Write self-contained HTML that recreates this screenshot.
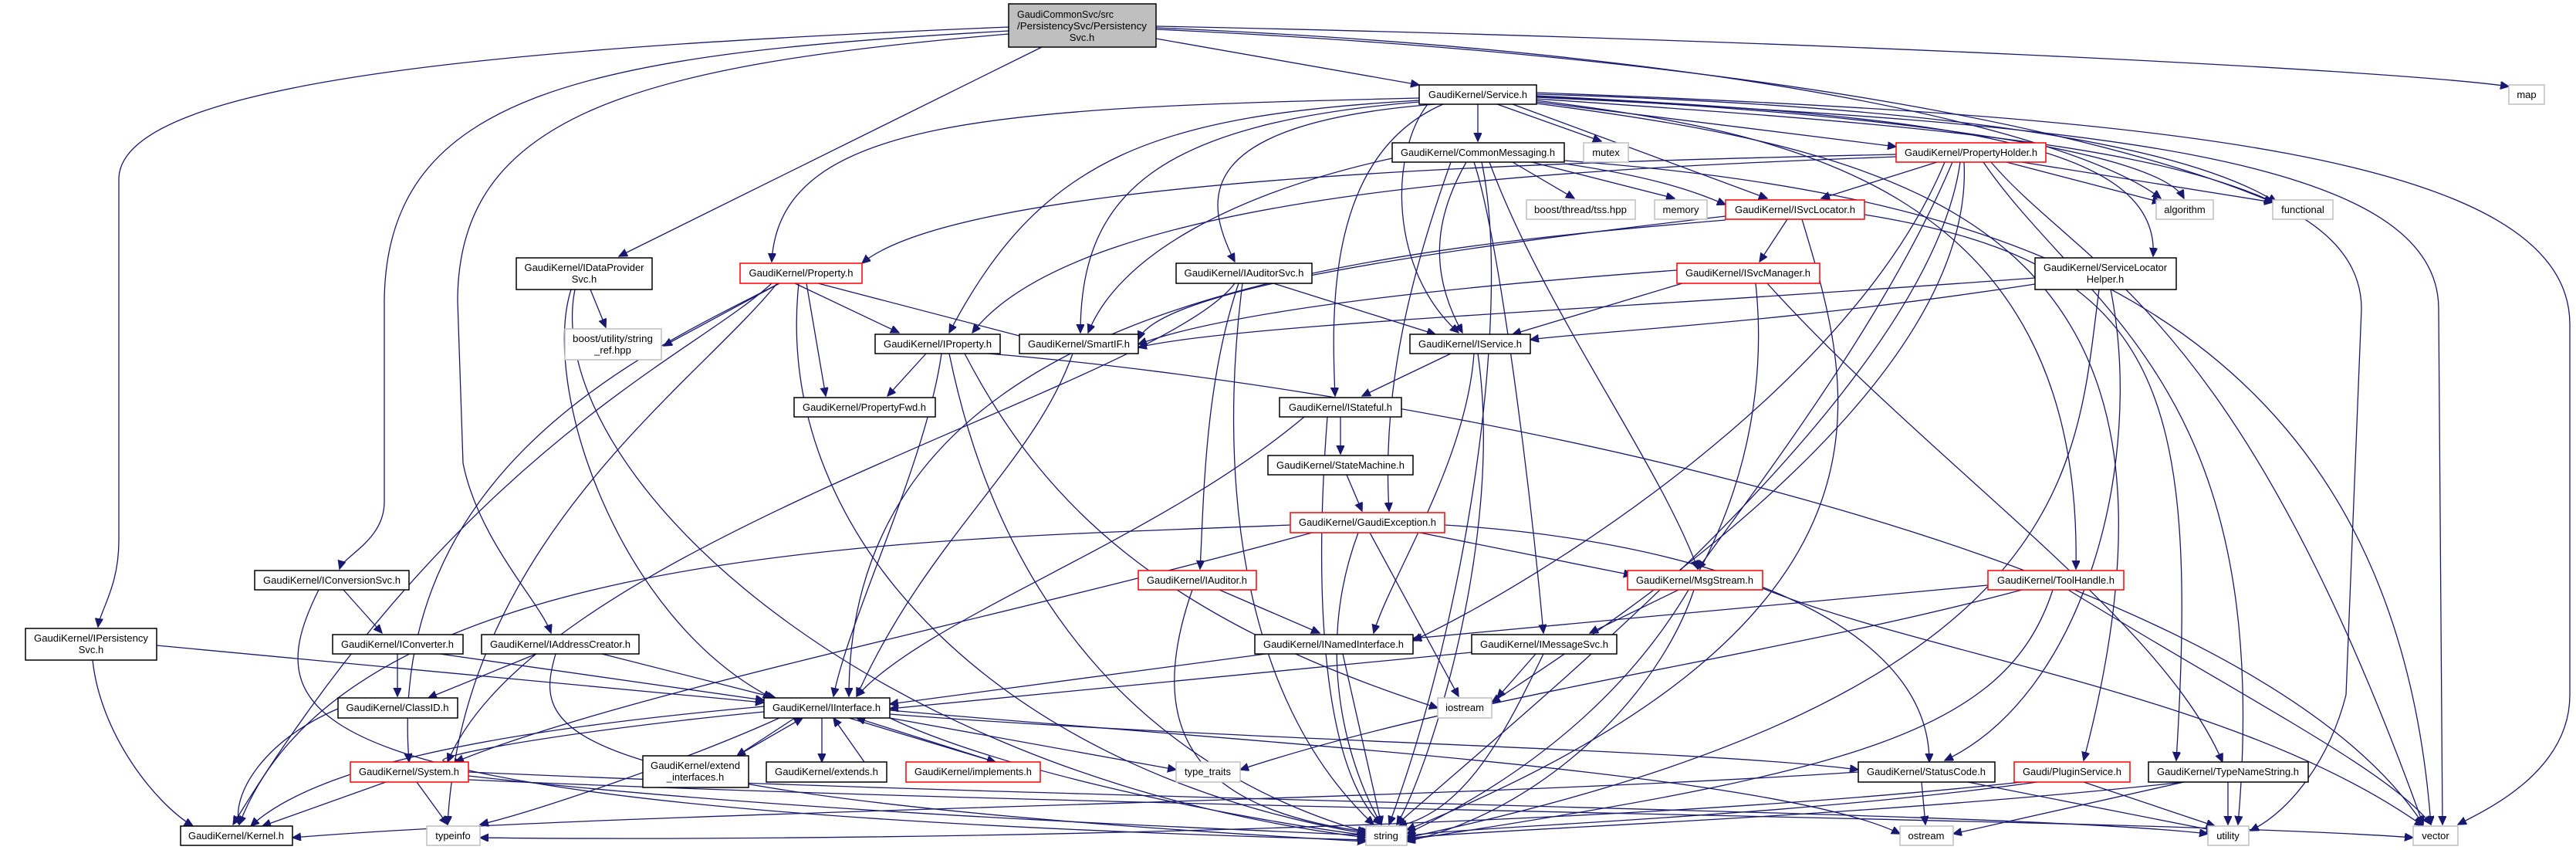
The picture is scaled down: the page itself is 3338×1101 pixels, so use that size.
<!DOCTYPE html>
<html><head><meta charset="utf-8"><style>
html,body{margin:0;padding:0;background:#fff;}
svg{display:block}
.n rect{fill:#fff;stroke:#000;stroke-width:1.5}
.r rect{stroke:#ff0000}
.g rect{stroke:#bfbfbf}
text{font-family:"Liberation Sans",sans-serif;font-size:13px;fill:#000}
path{fill:none;stroke:#191970;stroke-width:1.3}
</style></head><body>
<svg width="3338" height="1101" viewBox="0 0 3338 1101" xmlns="http://www.w3.org/2000/svg">
<defs><marker id="a" markerWidth="12" markerHeight="12" refX="11" refY="5" orient="auto" markerUnits="userSpaceOnUse"><path d="M0,0 L11,5 L0,10 Z" style="fill:#191970;stroke:#191970"/></marker></defs>
<g marker-end="url(#a)">
<path d="M1307,35 C700,60 160,100 154,230 L154,700 C154,760 130,790 127,812"/>
<path d="M1307,40 C760,70 500,120 498,390 L498,650 C498,700 445,720 440,737"/>
<path d="M1307,44 C820,85 593,150 593,390 L600,600 C620,700 700,780 714,820"/>
<path d="M1350,61 L802,332"/>
<path d="M1498,50 L1839,110"/>
<path d="M1498,34 C2300,50 3100,90 3251,112"/>
<path d="M1498,36 C2300,70 2700,180 2800,257"/>
<path d="M1498,38 C2400,80 2800,200 2945,262"/>
<path d="M1915,135 L1915,183"/>
<path d="M1940,135 L2075,183"/>
<path d="M1991,132 L2457,190"/>
<path d="M1960,135 L2290,257"/>
<path d="M1839,127 C1300,140 1010,150 1000,339"/>
<path d="M1839,130 C1500,150 1350,200 1230,431"/>
<path d="M1839,132 C1500,160 1400,250 1400,431"/>
<path d="M1860,135 C1540,160 1560,260 1600,339"/>
<path d="M1850,135 C1800,200 1800,350 1890,431"/>
<path d="M1870,135 C1720,200 1725,400 1730,513"/>
<path d="M1991,124 C2500,150 2800,180 2790,332"/>
<path d="M1991,122 C2600,140 2850,200 2950,262"/>
<path d="M1991,125 C2500,150 2800,200 2830,257"/>
<path d="M1991,128 C2600,170 3060,200 3060,400 L3040,900 C3020,980 2970,1050 2916,1076"/>
<path d="M1991,126 C2700,160 3160,200 3160,400 L3165,1068"/>
<path d="M1991,120 C2800,150 3330,200 3330,420 L3330,900 C3330,1000 3220,1050 3185,1068"/>
<path d="M1991,130 C2300,170 2700,230 2690,737"/>
<path d="M1991,134 C2500,200 2880,300 2700,985"/>
<path d="M1960,210 L2040,257"/>
<path d="M1985,210 L2170,257"/>
<path d="M2027,212 C2150,230 2200,250 2236,265"/>
<path d="M1804,205 C1600,250 1450,330 1410,431"/>
<path d="M1900,210 C1860,280 1850,350 1895,431"/>
<path d="M1910,210 C1940,300 1980,600 2000,820"/>
<path d="M1930,210 C2000,400 2150,600 2200,737"/>
<path d="M1880,210 C1830,350 1790,500 1800,662"/>
<path d="M1920,210 C1960,400 1900,800 1800,1068"/>
<path d="M2027,208 C2600,250 3100,400 3150,1068"/>
<path d="M2510,210 L2360,257"/>
<path d="M2600,210 L2800,262"/>
<path d="M2620,210 L2945,262"/>
<path d="M2457,200 C2000,210 1250,230 1117,341"/>
<path d="M2457,203 C2000,220 1400,250 1260,431"/>
<path d="M2540,210 C2500,500 2000,900 1810,1068"/>
<path d="M2530,210 C2450,400 2300,600 2200,737"/>
<path d="M2520,210 C2400,500 2000,750 1831,830"/>
<path d="M2545,210 C2560,500 2100,800 1933,910"/>
<path d="M2570,210 C2700,400 2950,500 2900,1068"/>
<path d="M2580,210 C2700,350 2900,400 3140,1068"/>
<path d="M2316,284 L2280,339"/>
<path d="M2236,280 C1800,330 1500,380 1475,440"/>
<path d="M2236,285 C1700,330 1100,400 1100,902"/>
<path d="M2335,284 C2400,500 2500,800 1823,1075"/>
<path d="M2416,278 C2800,340 2850,500 2820,985"/>
<path d="M1010,367 L860,448"/>
<path d="M1030,367 L1165,431"/>
<path d="M1060,367 L1340,440"/>
<path d="M1045,367 L1070,513"/>
<path d="M1000,367 C900,460 600,580 302,1068"/>
<path d="M1007,367 C900,500 600,700 580,1068"/>
<path d="M1010,367 C850,450 500,600 530,987"/>
<path d="M1035,367 C1000,700 1300,1000 1770,1080"/>
<path d="M765,375 L785,424"/>
<path d="M740,375 C700,500 800,800 1000,904"/>
<path d="M745,375 C700,600 1100,1000 1770,1085"/>
<path d="M1650,367 L1860,433"/>
<path d="M1605,367 C1560,500 1560,650 1555,737"/>
<path d="M1610,367 C1580,600 1600,900 1780,1068"/>
<path d="M1600,367 C1500,500 700,700 580,987"/>
<path d="M2173,350 C1900,370 1600,400 1475,446"/>
<path d="M2180,367 L1960,433"/>
<path d="M2275,367 C2300,600 2200,900 1823,1080"/>
<path d="M2290,367 C2500,600 2800,800 2880,987"/>
<path d="M2637,360 C2100,400 1600,420 1475,450"/>
<path d="M2637,368 C2300,420 2050,430 1983,440"/>
<path d="M2720,375 C2690,600 2700,900 1823,1085"/>
<path d="M2735,375 C2780,600 2700,900 2520,985"/>
<path d="M1200,458 L1150,513"/>
<path d="M1220,458 C1200,600 1100,800 1080,902"/>
<path d="M1250,458 C1350,650 1500,800 1863,917"/>
<path d="M1230,458 C1300,800 1500,1000 1770,1078"/>
<path d="M1280,458 C1800,500 2900,700 3140,1068"/>
<path d="M1390,458 C1340,600 1200,700 1110,902"/>
<path d="M1880,458 L1765,513"/>
<path d="M1910,458 C1900,600 1800,750 1780,820"/>
<path d="M1915,458 C1950,700 1850,1000 1810,1068"/>
<path d="M1737,540 L1737,588"/>
<path d="M1690,540 C1500,700 1200,800 1110,902"/>
<path d="M1720,540 C1700,800 1720,1000 1790,1068"/>
<path d="M1745,615 L1765,662"/>
<path d="M1672,680 C1200,700 450,700 310,1068"/>
<path d="M1700,690 C1300,800 800,900 590,987"/>
<path d="M1760,690 C1700,850 1750,1000 1790,1068"/>
<path d="M1775,690 L1890,902"/>
<path d="M1840,690 L2115,745"/>
<path d="M1872,680 C2200,700 2500,800 2500,987"/>
<path d="M1580,764 L1710,820"/>
<path d="M1545,764 C1480,950 1550,1050 1775,1078"/>
<path d="M2175,764 L2060,820"/>
<path d="M2195,764 C2150,900 2000,1050 1823,1090"/>
<path d="M2284,762 C2500,850 2900,900 3140,1070"/>
<path d="M2576,758 L1831,827"/>
<path d="M2620,764 C2300,850 1900,900 1607,997"/>
<path d="M2660,764 C2600,950 2400,1000 1823,1088"/>
<path d="M2680,764 C2900,900 3100,1000 3150,1068"/>
<path d="M1990,847 L1940,904"/>
<path d="M2000,847 C1950,950 1900,1050 1812,1070"/>
<path d="M1907,845 L1153,918"/>
<path d="M1640,847 L1153,912"/>
<path d="M1740,847 L1790,1068"/>
<path d="M445,764 L495,820"/>
<path d="M413,764 C320,950 400,1050 1770,1088"/>
<path d="M515,847 L515,902"/>
<path d="M570,847 L990,907"/>
<path d="M695,847 L555,904"/>
<path d="M780,847 L1005,904"/>
<path d="M720,847 C690,950 700,1030 1770,1090"/>
<path d="M203,836 L990,910"/>
<path d="M120,855 C130,950 200,1040 250,1070"/>
<path d="M438,918 C340,960 300,1030 310,1068"/>
<path d="M990,922 C700,950 500,990 600,987"/>
<path d="M990,915 C600,950 400,1000 325,1070"/>
<path d="M1010,930 C900,980 700,1050 622,1068"/>
<path d="M1030,930 L955,979"/>
<path d="M1065,930 L1065,987"/>
<path d="M1100,930 L1290,987"/>
<path d="M1153,930 L1524,997"/>
<path d="M1153,925 C1600,960 2200,970 2408,997"/>
<path d="M1153,920 C1600,960 2300,1000 2462,1080"/>
<path d="M1153,930 C1300,1000 1600,1060 1770,1082"/>
<path d="M955,979 L1040,930"/>
<path d="M1120,987 L1080,930"/>
<path d="M1290,987 L1110,930"/>
<path d="M500,1013 L340,1070"/>
<path d="M540,1013 L580,1068"/>
<path d="M607,1005 C1000,1050 1500,1070 1770,1082"/>
<path d="M607,1000 C1500,1040 2600,1050 2861,1080"/>
<path d="M607,1010 C1500,1050 2800,1060 3127,1085"/>
<path d="M2490,1013 L2495,1068"/>
<path d="M2550,1013 L2870,1076"/>
<path d="M2408,1000 C1800,1040 800,1050 379,1085"/>
<path d="M2640,1013 C2300,1060 1900,1070 1823,1083"/>
<path d="M2700,1013 L2870,1070"/>
<path d="M2620,1013 C2000,1080 1000,1090 622,1085"/>
<path d="M2887,1013 L2887,1068"/>
<path d="M2830,1013 C2400,1060 1900,1075 1823,1086"/>
<path d="M2830,1013 L2531,1080"/>
</g>
<g class="n"><rect x="1307" y="5" width="191" height="56" style="fill:#bfbfbf"/>
<text x="1318" y="23" textLength="125" lengthAdjust="spacingAndGlyphs">GaudiCommonSvc/src</text>
<text x="1318" y="38" textLength="168" lengthAdjust="spacingAndGlyphs">/PersistencySvc/Persistency</text>
<text x="1402" y="53" text-anchor="middle">Svc.h</text></g>

<g class="n"><rect x="1839" y="110" width="152" height="25"/><text x="1915" y="127" text-anchor="middle" textLength="128" lengthAdjust="spacingAndGlyphs">GaudiKernel/Service.h</text></g>
<g class="n"><rect x="1804" y="185" width="223" height="25"/><text x="1915" y="202" text-anchor="middle" textLength="200" lengthAdjust="spacingAndGlyphs">GaudiKernel/CommonMessaging.h</text></g>
<g class="n g"><rect x="2052" y="185" width="58" height="25"/><text x="2081" y="202" text-anchor="middle">mutex</text></g>
<g class="n g"><rect x="1978" y="259" width="141" height="25"/><text x="2048" y="276" text-anchor="middle" textLength="120" lengthAdjust="spacingAndGlyphs">boost/thread/tss.hpp</text></g>
<g class="n g"><rect x="2144" y="259" width="68" height="25"/><text x="2178" y="276" text-anchor="middle">memory</text></g>
<g class="n r"><rect x="2457" y="185" width="194" height="25"/><text x="2554" y="202" text-anchor="middle" textLength="172" lengthAdjust="spacingAndGlyphs">GaudiKernel/PropertyHolder.h</text></g>
<g class="n r"><rect x="2236" y="259" width="180" height="25"/><text x="2326" y="276" text-anchor="middle" textLength="156" lengthAdjust="spacingAndGlyphs">GaudiKernel/ISvcLocator.h</text></g>
<g class="n g"><rect x="2794" y="259" width="74" height="25"/><text x="2831" y="276" text-anchor="middle">algorithm</text></g>
<g class="n g"><rect x="2945" y="259" width="78" height="25"/><text x="2984" y="276" text-anchor="middle">functional</text></g>
<g class="n g"><rect x="3251" y="110" width="46" height="25"/><text x="3274" y="127" text-anchor="middle">map</text></g>

<g class="n"><rect x="669" y="334" width="176" height="41"/><text x="757" y="351" text-anchor="middle" textLength="155" lengthAdjust="spacingAndGlyphs">GaudiKernel/IDataProvider</text><text x="757" y="366" text-anchor="middle">Svc.h</text></g>
<g class="n g"><rect x="732" y="426" width="125" height="40"/><text x="794" y="443" text-anchor="middle" textLength="104" lengthAdjust="spacingAndGlyphs">boost/utility/string</text><text x="794" y="458" text-anchor="middle">_ref.hpp</text></g>
<g class="n r"><rect x="959" y="341" width="158" height="26"/><text x="1038" y="358" text-anchor="middle" textLength="135" lengthAdjust="spacingAndGlyphs">GaudiKernel/Property.h</text></g>
<g class="n"><rect x="1524" y="341" width="176" height="26"/><text x="1612" y="358" text-anchor="middle" textLength="155" lengthAdjust="spacingAndGlyphs">GaudiKernel/IAuditorSvc.h</text></g>
<g class="n r"><rect x="2173" y="341" width="185" height="26"/><text x="2265" y="358" text-anchor="middle" textLength="162" lengthAdjust="spacingAndGlyphs">GaudiKernel/ISvcManager.h</text></g>
<g class="n"><rect x="2637" y="334" width="183" height="41"/><text x="2728" y="351" text-anchor="middle" textLength="160" lengthAdjust="spacingAndGlyphs">GaudiKernel/ServiceLocator</text><text x="2728" y="366" text-anchor="middle">Helper.h</text></g>

<g class="n"><rect x="1134" y="433" width="162" height="25"/><text x="1215" y="450" text-anchor="middle" textLength="140" lengthAdjust="spacingAndGlyphs">GaudiKernel/IProperty.h</text></g>
<g class="n"><rect x="1321" y="433" width="154" height="25"/><text x="1398" y="450" text-anchor="middle" textLength="132" lengthAdjust="spacingAndGlyphs">GaudiKernel/SmartIF.h</text></g>
<g class="n"><rect x="1827" y="433" width="156" height="25"/><text x="1905" y="450" text-anchor="middle" textLength="134" lengthAdjust="spacingAndGlyphs">GaudiKernel/IService.h</text></g>
<g class="n"><rect x="1029" y="515" width="183" height="25"/><text x="1120" y="532" text-anchor="middle" textLength="160" lengthAdjust="spacingAndGlyphs">GaudiKernel/PropertyFwd.h</text></g>
<g class="n"><rect x="1658" y="515" width="158" height="25"/><text x="1737" y="532" text-anchor="middle" textLength="134" lengthAdjust="spacingAndGlyphs">GaudiKernel/IStateful.h</text></g>
<g class="n"><rect x="1643" y="590" width="188" height="25"/><text x="1737" y="607" text-anchor="middle" textLength="166" lengthAdjust="spacingAndGlyphs">GaudiKernel/StateMachine.h</text></g>
<g class="n r"><rect x="1672" y="664" width="200" height="26"/><text x="1772" y="681" text-anchor="middle" textLength="178" lengthAdjust="spacingAndGlyphs">GaudiKernel/GaudiException.h</text></g>

<g class="n"><rect x="330" y="739" width="200" height="25"/><text x="430" y="756" text-anchor="middle" textLength="178" lengthAdjust="spacingAndGlyphs">GaudiKernel/IConversionSvc.h</text></g>
<g class="n r"><rect x="1475" y="739" width="153" height="25"/><text x="1551" y="756" text-anchor="middle" textLength="130" lengthAdjust="spacingAndGlyphs">GaudiKernel/IAuditor.h</text></g>
<g class="n r"><rect x="2109" y="739" width="175" height="25"/><text x="2196" y="756" text-anchor="middle" textLength="152" lengthAdjust="spacingAndGlyphs">GaudiKernel/MsgStream.h</text></g>
<g class="n r"><rect x="2576" y="739" width="176" height="25"/><text x="2664" y="756" text-anchor="middle" textLength="152" lengthAdjust="spacingAndGlyphs">GaudiKernel/ToolHandle.h</text></g>

<g class="n"><rect x="33" y="814" width="170" height="41"/><text x="118" y="831" text-anchor="middle" textLength="148" lengthAdjust="spacingAndGlyphs">GaudiKernel/IPersistency</text><text x="118" y="846" text-anchor="middle">Svc.h</text></g>
<g class="n"><rect x="431" y="822" width="169" height="25"/><text x="515" y="839" text-anchor="middle" textLength="146" lengthAdjust="spacingAndGlyphs">GaudiKernel/IConverter.h</text></g>
<g class="n"><rect x="624" y="822" width="204" height="25"/><text x="726" y="839" text-anchor="middle" textLength="182" lengthAdjust="spacingAndGlyphs">GaudiKernel/IAddressCreator.h</text></g>
<g class="n"><rect x="1626" y="822" width="205" height="25"/><text x="1728" y="839" text-anchor="middle" textLength="182" lengthAdjust="spacingAndGlyphs">GaudiKernel/INamedInterface.h</text></g>
<g class="n"><rect x="1907" y="822" width="188" height="25"/><text x="2001" y="839" text-anchor="middle" textLength="166" lengthAdjust="spacingAndGlyphs">GaudiKernel/IMessageSvc.h</text></g>

<g class="n"><rect x="438" y="904" width="155" height="26"/><text x="515" y="921" text-anchor="middle" textLength="133" lengthAdjust="spacingAndGlyphs">GaudiKernel/ClassID.h</text></g>
<g class="n"><rect x="990" y="904" width="163" height="26"/><text x="1071" y="921" text-anchor="middle" textLength="140" lengthAdjust="spacingAndGlyphs">GaudiKernel/IInterface.h</text></g>
<g class="n g"><rect x="1863" y="904" width="70" height="26"/><text x="1898" y="921" text-anchor="middle">iostream</text></g>

<g class="n r"><rect x="454" y="987" width="153" height="26"/><text x="530" y="1004" text-anchor="middle" textLength="130" lengthAdjust="spacingAndGlyphs">GaudiKernel/System.h</text></g>
<g class="n"><rect x="833" y="979" width="137" height="41"/><text x="901" y="996" text-anchor="middle" textLength="116" lengthAdjust="spacingAndGlyphs">GaudiKernel/extend</text><text x="901" y="1011" text-anchor="middle">_interfaces.h</text></g>
<g class="n"><rect x="993" y="987" width="156" height="26"/><text x="1071" y="1004" text-anchor="middle" textLength="134" lengthAdjust="spacingAndGlyphs">GaudiKernel/extends.h</text></g>
<g class="n r"><rect x="1174" y="987" width="174" height="26"/><text x="1261" y="1004" text-anchor="middle" textLength="152" lengthAdjust="spacingAndGlyphs">GaudiKernel/implements.h</text></g>
<g class="n g"><rect x="1524" y="987" width="83" height="26"/><text x="1565" y="1004" text-anchor="middle">type_traits</text></g>
<g class="n"><rect x="2408" y="987" width="177" height="26"/><text x="2496" y="1004" text-anchor="middle" textLength="154" lengthAdjust="spacingAndGlyphs">GaudiKernel/StatusCode.h</text></g>
<g class="n r"><rect x="2610" y="987" width="150" height="26"/><text x="2685" y="1004" text-anchor="middle" textLength="128" lengthAdjust="spacingAndGlyphs">Gaudi/PluginService.h</text></g>
<g class="n"><rect x="2784" y="987" width="207" height="26"/><text x="2887" y="1004" text-anchor="middle" textLength="184" lengthAdjust="spacingAndGlyphs">GaudiKernel/TypeNameString.h</text></g>

<g class="n"><rect x="234" y="1070" width="145" height="25"/><text x="306" y="1087" text-anchor="middle" textLength="124" lengthAdjust="spacingAndGlyphs">GaudiKernel/Kernel.h</text></g>
<g class="n g"><rect x="553" y="1070" width="69" height="25"/><text x="587" y="1087" text-anchor="middle">typeinfo</text></g>
<g class="n g"><rect x="1770" y="1070" width="53" height="25"/><text x="1796" y="1087" text-anchor="middle">string</text></g>
<g class="n g"><rect x="2462" y="1070" width="69" height="25"/><text x="2496" y="1087" text-anchor="middle">ostream</text></g>
<g class="n g"><rect x="2861" y="1070" width="53" height="25"/><text x="2887" y="1087" text-anchor="middle">utility</text></g>
<g class="n g"><rect x="3127" y="1070" width="58" height="25"/><text x="3156" y="1087" text-anchor="middle">vector</text></g>
</svg>
</body></html>
